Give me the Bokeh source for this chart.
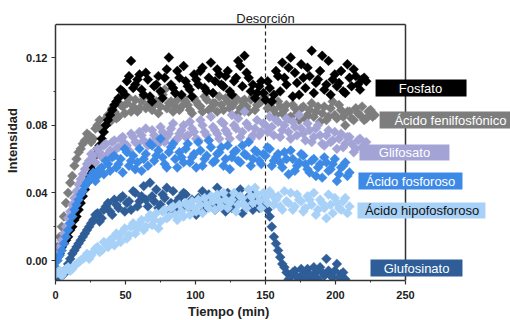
from bokeh.plotting import figure
from bokeh.models import Range1d, FixedTicker, Title
from bokeh.embed import file_html
from bokeh.resources import INLINE
from bokeh.core.properties import value

# ---------------- data ----------------
# readings at 0, 3, 6 ... min
time_a = [0, 3, 6, 9, 12, 15, 18, 21, 24, 27, 30, 33, 36, 39, 42, 45, 48, 51, 54, 57,
          60, 63, 66, 69, 72, 75, 78, 81, 84, 87, 90, 93, 96, 99, 102, 105, 108, 111, 114, 117,
          120, 123, 126, 129, 132, 135, 138, 141, 144, 147, 150, 153, 156, 159, 162, 165, 168, 171, 174, 177,
          180, 183, 186, 189, 192, 195, 198, 201, 204, 207, 210, 213, 216, 219, 222, 225, 228]
# readings at 1.5, 4.5, 7.5 ... min
time_b = [1.5, 4.5, 7.5, 10.5, 13.5, 16.5, 19.5, 22.5, 25.5, 28.5, 31.5, 34.5, 37.5, 40.5, 43.5, 46.5,
          49.5, 52.5, 55.5, 58.5, 61.5, 64.5, 67.5, 70.5, 73.5, 76.5, 79.5, 82.5, 85.5, 88.5, 91.5, 94.5,
          97.5, 100.5, 103.5, 106.5, 109.5, 112.5, 115.5, 118.5, 121.5, 124.5, 127.5, 130.5, 133.5, 136.5,
          139.5, 142.5, 145.5, 148.5, 151.5, 154.5, 157.5, 160.5, 163.5, 166.5, 169.5, 172.5, 175.5, 178.5,
          181.5, 184.5, 187.5, 190.5, 193.5, 196.5, 199.5, 202.5, 205.5, 208.5, 211.5, 214.5, 217.5, 220.5,
          223.5, 226.5]

fenilfosfonico_a = [0.004, 0.014, 0.026, 0.040, 0.050, 0.060, 0.066, 0.071, 0.074, 0.072,
                    0.080, 0.077, 0.084, 0.082, 0.088, 0.085, 0.091, 0.093, 0.088, 0.095,
                    0.090, 0.097, 0.092, 0.089, 0.094, 0.091, 0.101, 0.093, 0.088, 0.095,
                    0.091, 0.094, 0.089, 0.096, 0.092, 0.088, 0.095, 0.090, 0.093, 0.097,
                    0.089, 0.094, 0.091, 0.096, 0.090, 0.095, 0.088, 0.097, 0.092, 0.094,
                    0.098, 0.092, 0.089, 0.094, 0.087, 0.092, 0.085, 0.090, 0.083, 0.091,
                    0.086, 0.093, 0.088, 0.082, 0.091, 0.085, 0.094, 0.084, 0.089, 0.080,
                    0.088, 0.083, 0.087, 0.091, 0.084, 0.089, 0.086]
fenilfosfonico_b = [0.008, 0.020, 0.034, 0.046, 0.056, 0.064, 0.069, 0.075, 0.070, 0.078,
                    0.083, 0.079, 0.086, 0.090, 0.084, 0.092, 0.087, 0.096, 0.091, 0.088,
                    0.094, 0.090, 0.096, 0.092, 0.087, 0.098, 0.090, 0.094, 0.091, 0.089,
                    0.096, 0.092, 0.087, 0.094, 0.091, 0.097, 0.089, 0.093, 0.088, 0.092,
                    0.096, 0.090, 0.093, 0.087, 0.094, 0.091, 0.095, 0.089, 0.093, 0.096,
                    0.090, 0.094, 0.086, 0.091, 0.089, 0.084, 0.092, 0.087, 0.090, 0.084,
                    0.089, 0.085, 0.091, 0.087, 0.083, 0.090, 0.086, 0.092, 0.085, 0.088,
                    0.084, 0.090, 0.086, 0.083, 0.088, 0.085]

fosfato_a = [0.000, 0.004, 0.010, 0.014, 0.020, 0.026, 0.034, 0.042, 0.050, 0.057,
             0.066, 0.072, 0.080, 0.086, 0.092, 0.096, 0.100, 0.106, 0.118, 0.104,
             0.110, 0.098, 0.107, 0.094, 0.104, 0.100, 0.108, 0.120, 0.102, 0.112,
             0.098, 0.106, 0.101, 0.110, 0.104, 0.114, 0.100, 0.117, 0.106, 0.110,
             0.103, 0.112, 0.098, 0.108, 0.115, 0.121, 0.108, 0.104, 0.099, 0.106,
             0.095, 0.102, 0.098, 0.109, 0.117, 0.104, 0.120, 0.111, 0.098, 0.108,
             0.114, 0.124, 0.105, 0.112, 0.101, 0.118, 0.107, 0.103, 0.112, 0.099,
             0.108, 0.113, 0.104, 0.107, 0.106]
fosfato_b = [0.002, 0.008, 0.012, 0.018, 0.024, 0.030, 0.038, 0.046, 0.054, 0.062,
             0.068, 0.076, 0.083, 0.089, 0.094, 0.101, 0.098, 0.109, 0.102, 0.107,
             0.101, 0.111, 0.097, 0.103, 0.109, 0.096, 0.113, 0.104, 0.099, 0.108,
             0.115, 0.103, 0.097, 0.107, 0.112, 0.102, 0.108, 0.099, 0.113, 0.104,
             0.109, 0.100, 0.106, 0.118, 0.103, 0.111, 0.100, 0.096, 0.103, 0.099,
             0.106, 0.094, 0.112, 0.100, 0.108, 0.114, 0.097, 0.105, 0.116, 0.102,
             0.109, 0.099, 0.107, 0.121, 0.104, 0.098, 0.110, 0.105, 0.100, 0.116,
             0.103, 0.109, 0.101, 0.108]

glifosato_a = [0.000, 0.008, 0.016, 0.025, 0.033, 0.041, 0.048, 0.054, 0.059, 0.062,
               0.066, 0.061, 0.069, 0.065, 0.071, 0.067, 0.073, 0.068, 0.075, 0.070,
               0.076, 0.071, 0.068, 0.077, 0.072, 0.079, 0.070, 0.075, 0.081, 0.072,
               0.077, 0.073, 0.082, 0.076, 0.071, 0.080, 0.074, 0.085, 0.077, 0.072,
               0.081, 0.075, 0.086, 0.078, 0.073, 0.088, 0.079, 0.074, 0.083, 0.076,
               0.080, 0.085, 0.074, 0.082, 0.077, 0.084, 0.072, 0.079, 0.086, 0.075,
               0.081, 0.070, 0.078, 0.074, 0.068, 0.077, 0.071, 0.066, 0.075, 0.069,
               0.073, 0.064, 0.071, 0.067, 0.070]
glifosato_b = [0.004, 0.012, 0.020, 0.029, 0.037, 0.045, 0.051, 0.057, 0.063, 0.058,
               0.064, 0.068, 0.063, 0.070, 0.066, 0.072, 0.069, 0.065, 0.073, 0.069,
               0.074, 0.078, 0.070, 0.074, 0.069, 0.076, 0.073, 0.078, 0.071, 0.075,
               0.080, 0.074, 0.078, 0.072, 0.083, 0.076, 0.071, 0.079, 0.075, 0.082,
               0.077, 0.072, 0.080, 0.084, 0.076, 0.081, 0.072, 0.078, 0.074, 0.081,
               0.076, 0.079, 0.083, 0.073, 0.080, 0.076, 0.082, 0.074, 0.078, 0.071,
               0.077, 0.073, 0.080, 0.069, 0.074, 0.070, 0.076, 0.072, 0.067, 0.073,
               0.069, 0.066, 0.072, 0.068]

fosforoso_a = [-0.004, 0.003, 0.010, 0.018, 0.026, 0.033, 0.039, 0.044, 0.048, 0.052,
               0.050, 0.055, 0.059, 0.053, 0.062, 0.057, 0.052, 0.064, 0.059, 0.054,
               0.066, 0.060, 0.056, 0.068, 0.062, 0.072, 0.057, 0.064, 0.069, 0.055,
               0.061, 0.066, 0.058, 0.063, 0.070, 0.056, 0.062, 0.067, 0.059, 0.064,
               0.056, 0.068, 0.061, 0.065, 0.058, 0.063, 0.070, 0.060, 0.064, 0.057,
               0.062, 0.066, 0.059, 0.063, 0.055, 0.060, 0.065, 0.053, 0.058, 0.062,
               0.054, 0.059, 0.050, 0.057, 0.061, 0.053, 0.057, 0.047, 0.055, 0.058,
               0.052]
fosforoso_b = [0.000, 0.006, 0.014, 0.022, 0.030, 0.036, 0.041, 0.046, 0.050, 0.047,
               0.054, 0.051, 0.057, 0.061, 0.055, 0.060, 0.066, 0.056, 0.062, 0.058,
               0.053, 0.063, 0.069, 0.059, 0.065, 0.061, 0.055, 0.067, 0.060, 0.064,
               0.058, 0.069, 0.061, 0.055, 0.065, 0.060, 0.071, 0.058, 0.063, 0.067,
               0.060, 0.054, 0.064, 0.059, 0.068, 0.062, 0.056, 0.065, 0.059, 0.063,
               0.067, 0.056, 0.061, 0.058, 0.064, 0.051, 0.060, 0.056, 0.063, 0.057,
               0.052, 0.060, 0.055, 0.049, 0.058, 0.054, 0.060, 0.051, 0.056, 0.050]

glufosinato_a = [-0.011, -0.010, -0.008, -0.002, 0.004, 0.008, 0.012, 0.016, 0.020, 0.024,
                 0.028, 0.025, 0.032, 0.029, 0.036, 0.031, 0.038, 0.034, 0.030, 0.040,
                 0.035, 0.044, 0.032, 0.038, 0.042, 0.033, 0.037, 0.030, 0.041, 0.035,
                 0.031, 0.039, 0.034, 0.029, 0.037, 0.041, 0.033, 0.036, 0.030, 0.038,
                 0.034, 0.040, 0.031, 0.036, 0.042, 0.033, 0.038, 0.030, 0.035, 0.032,
                 0.034, 0.026, 0.014, 0.006, -0.002, -0.007, -0.009, -0.006, -0.010, -0.008,
                 -0.005, -0.010, -0.007, -0.004, -0.009, -0.006, -0.010, -0.002, -0.008, -0.011]
glufosinato_b = [-0.012, -0.009, -0.005, 0.001, 0.006, 0.010, 0.014, 0.018, 0.022, 0.027,
                 0.023, 0.030, 0.034, 0.027, 0.033, 0.037, 0.029, 0.035, 0.041, 0.032,
                 0.038, 0.036, 0.046, 0.035, 0.031, 0.039, 0.043, 0.034, 0.029, 0.037,
                 0.040, 0.032, 0.036, 0.027, 0.035, 0.030, 0.039, 0.033, 0.043, 0.036,
                 0.029, 0.037, 0.033, 0.039, 0.028, 0.036, 0.033, 0.040, 0.031, 0.036,
                 0.030, 0.020, 0.010, 0.002, -0.004, -0.011, -0.007, -0.010, -0.005, -0.011,
                 -0.008, -0.004, -0.011, -0.007, 0.001, -0.009, -0.006, -0.010, -0.007]

hipofosforoso_a = [-0.008, -0.006, -0.007, -0.004, -0.005, -0.002, 0.000, 0.002, 0.001, 0.005,
                   0.008, 0.006, 0.010, 0.012, 0.009, 0.014, 0.017, 0.013, 0.020, 0.016,
                   0.022, 0.018, 0.025, 0.021, 0.028, 0.023, 0.030, 0.026, 0.032, 0.024,
                   0.029, 0.034, 0.027, 0.031, 0.036, 0.028, 0.033, 0.038, 0.030, 0.035,
                   0.040, 0.031, 0.036, 0.029, 0.038, 0.033, 0.042, 0.034, 0.039, 0.031,
                   0.037, 0.041, 0.033, 0.038, 0.030, 0.035, 0.040, 0.032, 0.036, 0.029,
                   0.038, 0.033, 0.027, 0.036, 0.031, 0.039, 0.028, 0.034, 0.030, 0.037,
                   0.032]
hipofosforoso_b = [-0.007, -0.009, -0.005, -0.006, -0.003, -0.001, 0.001, 0.004, 0.003, 0.007,
                   0.005, 0.011, 0.008, 0.013, 0.016, 0.011, 0.019, 0.015, 0.022, 0.019,
                   0.024, 0.020, 0.027, 0.024, 0.019, 0.029, 0.025, 0.031, 0.027, 0.033,
                   0.026, 0.032, 0.035, 0.029, 0.033, 0.037, 0.031, 0.035, 0.039, 0.032,
                   0.036, 0.034, 0.040, 0.033, 0.037, 0.031, 0.038, 0.043, 0.035, 0.040,
                   0.034, 0.039, 0.036, 0.032, 0.041, 0.034, 0.030, 0.039, 0.035, 0.031,
                   0.036, 0.040, 0.030, 0.034, 0.025, 0.033, 0.037, 0.031, 0.035, 0.028]

series_names = ["Ácido fenilfosfónico", "Fosfato", "Glifosato", "Ácido fosforoso",
                "Glufosinato", "Ácido hipofosforoso"]
series_a = [fenilfosfonico_a, fosfato_a, glifosato_a, fosforoso_a, glufosinato_a, hipofosforoso_a]
series_b = [fenilfosfonico_b, fosfato_b, glifosato_b, fosforoso_b, glufosinato_b, hipofosforoso_b]
series_colors = ["#7d7d7d", "#000000", "#a3a3d6", "#3d8ae6", "#2e5d98", "#a8d1f7"]
label_text_colors = ["#ffffff", "#ffffff", "#ffffff", "#ffffff", "#ffffff", "#111111"]

x_ticks = [0, 50, 100, 150, 200, 250]
x_minor = [25, 75, 125, 175, 225]
y_ticks = [0.00, 0.04, 0.08, 0.12]
y_minor = [0.02, 0.06, 0.10]
desorcion_time = 150

# ---------------- layout ----------------
X_LO, X_HI = 0, 250
X_VIEW_HI = 325
Y_LO, Y_HI = -0.0118, 0.1395
FONT = "Liberation Sans"
AX = "#333333"
FRAME_LEFT = 55
FRAME_W = 510 - FRAME_LEFT
XLABEL_W = 85  # approx. rendered width of the x title

p = figure(width=510, height=320,
           x_range=Range1d(0, X_VIEW_HI), y_range=Range1d(Y_LO, 0.1537),
           output_backend="svg", toolbar_location=None,
           min_border_left=FRAME_LEFT, min_border_right=0, min_border_top=0, min_border_bottom=40)
p.outline_line_color = None
p.xgrid.visible = False
p.ygrid.visible = False
p.background_fill_color = "white"
p.border_fill_color = "white"

# frame lines (top and right)
p.line(x=[X_LO, X_HI], y=[Y_HI, Y_HI], line_color=AX, line_width=1.5)
p.line(x=[X_HI, X_HI], y=[Y_LO, Y_HI], line_color=AX, line_width=1.5)

# desorption marker
p.segment(x0=desorcion_time, y0=Y_LO, x1=desorcion_time, y1=Y_HI,
          line_color="#222222", line_width=1.2, line_dash="4 3")
p.text(x=[desorcion_time], y=[0.1431], text=["Desorción"], text_align="center",
       text_baseline="alphabetic", text_font=value(FONT), text_font_size="13px",
       text_color="#222222")

# series
for va, vb, col in zip(series_a, series_b, series_colors):
    for t, vals in ((time_a, va), (time_b, vb)):
        p.scatter(x=t[:len(vals)], y=vals, marker="square", angle=0.785398,
                  size=7, fill_color=col, line_color=col, line_width=0.4)

# label boxes
box_left = [231.5, 228.6, 217.1, 216.4, 225.0, 215.7]
box_right = [340.0, 293.6, 281.4, 290.7, 290.7, 307.1]
box_top = [0.0881, 0.1070, 0.0686, 0.0520, 0.0006, 0.0343]
box_bottom = [0.0780, 0.0969, 0.0591, 0.0420, -0.0095, 0.0248]
text_x = [282.1, 260.7, 249.3, 253.6, 257.9, 261.8]
p.quad(left=box_left, right=box_right, top=box_top, bottom=box_bottom,
       fill_color=series_colors, line_color=None)
p.text(x=text_x, y=[(a + b) / 2 for a, b in zip(box_top, box_bottom)], text=series_names,
       text_align="center", text_baseline="middle", text_font=value(FONT),
       text_font_size="13px", text_color=label_text_colors)

# axes
for ax in (p.xaxis[0], p.yaxis[0]):
    ax.axis_line_color = AX
    ax.axis_line_width = 1.5
    ax.major_tick_line_color = AX
    ax.minor_tick_line_color = AX
    ax.major_tick_line_width = 1.2
    ax.minor_tick_line_width = 1.0
    ax.major_tick_out = 4
    ax.major_tick_in = 0
    ax.minor_tick_out = 2
    ax.minor_tick_in = 0
    ax.major_label_text_font = FONT
    ax.major_label_text_font_style = "bold"
    ax.major_label_text_font_size = "11px"
    ax.major_label_text_color = "#222222"
    ax.axis_label_text_font = FONT
    ax.axis_label_text_font_style = "bold"
    ax.axis_label_text_font_size = "13px"
    ax.axis_label_text_color = "#222222"

p.xaxis.major_label_standoff = 6
p.yaxis.major_label_standoff = 4
p.yaxis.axis_label_standoff = 3
p.xaxis.bounds = (X_LO, X_HI)
p.yaxis.bounds = (Y_LO, Y_HI)
p.xaxis.ticker = FixedTicker(ticks=x_ticks, minor_ticks=x_minor)
p.yaxis.ticker = FixedTicker(ticks=y_ticks, minor_ticks=y_minor)
p.xaxis.major_label_overrides = {t: str(t) for t in x_ticks}
p.yaxis.major_label_overrides = {t: f"{t:.2f}" for t in y_ticks}
p.yaxis.axis_label = "Intensidad"

# x-axis title centred under the bounded axis (0-250), not under the whole frame
centre_px = (X_LO + X_HI) / 2 / X_VIEW_HI * FRAME_W
p.add_layout(Title(text="Tiempo (min)", align="left", offset=centre_px - XLABEL_W / 2,
                   standoff=0, text_font=FONT, text_font_style="bold",
                   text_font_size="13px", text_color="#222222"), "below")

open("out.html", "w").write(file_html(p, INLINE))
